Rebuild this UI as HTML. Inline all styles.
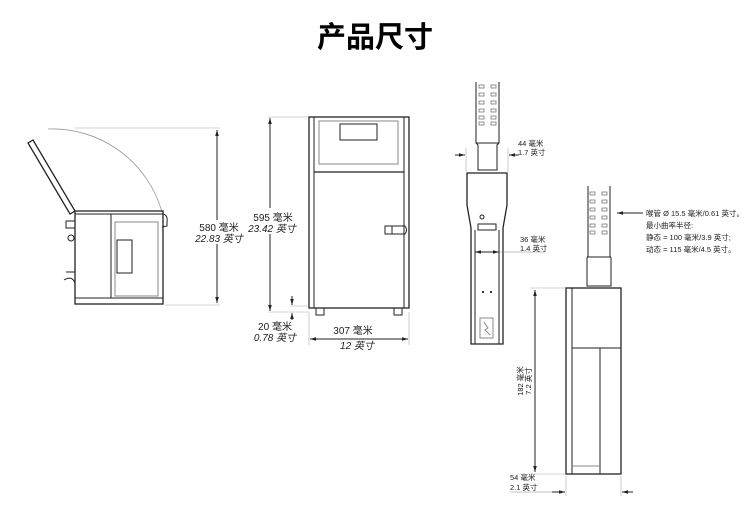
<!DOCTYPE html>
<html><head><meta charset="utf-8"><style>
body{margin:0;background:#fff;width:750px;height:517px;overflow:hidden}
svg{display:block}
text{font-family:"Liberation Sans","Noto Sans CJK SC",sans-serif;fill:#222}
</style></head><body>
<svg width="750" height="517" viewBox="0 0 750 517" xmlns="http://www.w3.org/2000/svg">
<defs>
<marker id="a" viewBox="0 0 10 10" refX="10" refY="5" markerWidth="6" markerHeight="6" orient="auto-start-reverse"><path d="M0,2 L10,5 L0,8z" fill="#222"/></marker>
</defs>
<text x="375" y="47" text-anchor="middle" font-size="29" font-weight="bold" style="fill:#000">产品尺寸</text>

<g stroke="#222" fill="none" stroke-width="1">
<!-- left side view -->
<path d="M48,129 A114,114 0 0 1 162,212" stroke="#999" stroke-width="0.8"/>
<line x1="75" y1="128" x2="220" y2="128" stroke="#aaa" stroke-width="0.6"/>
<line x1="165" y1="305" x2="220" y2="305" stroke="#aaa" stroke-width="0.6"/>
<path d="M28,143 L33,140 L75,211 L70,214 Z" stroke-width="1.3"/>
<rect x="75" y="211" width="88" height="93" stroke-width="1.3"/>
<line x1="75" y1="214" x2="163" y2="214"/>
<line x1="75" y1="298" x2="163" y2="298"/>
<line x1="111" y1="214" x2="111" y2="298"/>
<rect x="115" y="222" width="43" height="74" stroke="#888"/>
<rect x="117" y="240" width="15" height="33"/>
<path d="M163,214 Q168,215 167,222 L167,226 L162,227"/>
<rect x="66" y="221" width="9" height="7"/>
<circle cx="71" cy="238" r="3"/>
<path d="M66,272 L75,272 M64,280 Q72,275 75,283"/>
<line x1="217" y1="130" x2="217" y2="303" marker-start="url(#a)" marker-end="url(#a)"/>

<!-- front view -->
<line x1="268" y1="117" x2="308" y2="117" stroke="#aaa" stroke-width="0.6"/>
<line x1="268" y1="312" x2="308" y2="312" stroke="#aaa" stroke-width="0.6"/>
<line x1="290" y1="306" x2="308" y2="306" stroke="#aaa" stroke-width="0.6"/>
<line x1="270" y1="118" x2="270" y2="311" marker-start="url(#a)" marker-end="url(#a)"/>
<line x1="292" y1="296" x2="292" y2="305" marker-end="url(#a)"/>
<line x1="292" y1="322" x2="292" y2="313" marker-end="url(#a)"/>
<rect x="309" y="117" width="100" height="191" stroke-width="1.3"/>
<line x1="314" y1="117" x2="314" y2="308"/>
<line x1="404" y1="117" x2="404" y2="308"/>
<line x1="314" y1="172" x2="404" y2="172" stroke-width="1.3"/>
<rect x="319" y="121" width="79" height="43" stroke="#888"/>
<rect x="340" y="124" width="37" height="16"/>
<path d="M385,226 L405,226 Q408,230 405,234 L385,234 Z"/>
<line x1="392" y1="226" x2="392" y2="234"/>
<rect x="316" y="308" width="8" height="7"/>
<rect x="394" y="308" width="8" height="7"/>
<line x1="309" y1="312" x2="309" y2="345" stroke="#aaa" stroke-width="0.6"/>
<line x1="409" y1="312" x2="409" y2="345" stroke="#aaa" stroke-width="0.6"/>
<line x1="310" y1="339" x2="408" y2="339" marker-start="url(#a)" marker-end="url(#a)"/>

<!-- printhead 1 -->
<path d="M476,82 L476,143 L478,145 L478,170 L497,170 L497,145 L499,143 L499,82"/>
<g stroke="#666" stroke-width="0.7">
<rect x="479" y="85" width="5" height="3"/><rect x="491" y="85" width="5" height="3"/>
<rect x="479" y="93" width="5" height="3"/><rect x="491" y="93" width="5" height="3"/>
<rect x="479" y="101" width="5" height="3"/><rect x="491" y="101" width="5" height="3"/>
<rect x="479" y="109" width="5" height="3"/><rect x="491" y="109" width="5" height="3"/>
<rect x="479" y="116" width="5" height="3"/><rect x="491" y="116" width="5" height="3"/>
<rect x="479" y="122" width="5" height="3"/><rect x="491" y="122" width="5" height="3"/>
</g>
<line x1="476" y1="143" x2="499" y2="143"/>
<line x1="466" y1="148" x2="466" y2="172" stroke="#aaa" stroke-width="0.6"/>
<line x1="508" y1="148" x2="508" y2="172" stroke="#aaa" stroke-width="0.6"/>
<line x1="455" y1="155" x2="465" y2="155" marker-end="url(#a)"/>
<line x1="519" y1="155" x2="509" y2="155" marker-end="url(#a)"/>
<path d="M467,173 L507,173 L507,205 L503,228 L503,344 L471,344 L471,228 L467,205 Z" stroke-width="1.3"/>
<rect x="478" y="224" width="18" height="6"/>
<circle cx="482" cy="217" r="2"/>
<line x1="475" y1="230" x2="475" y2="344"/>
<line x1="499" y1="230" x2="499" y2="344"/>
<line x1="475" y1="252" x2="499" y2="252" marker-start="url(#a)" marker-end="url(#a)"/>
<line x1="499" y1="252" x2="545" y2="252" stroke="#888" stroke-width="0.6"/>
<rect x="480" y="318" width="13" height="20" stroke="#888"/>
<path d="M484,322 L488,328 L485,330 L490,335" stroke="#888"/>
<circle cx="483" cy="292" r="0.6" fill="#222"/><circle cx="491" cy="292" r="0.6" fill="#222"/>

<!-- printhead 2 -->
<path d="M588,186 L588,256 L587,258 L587,286 L611,286 L611,258 L610,256 L610,186"/>
<line x1="588" y1="257" x2="610" y2="257"/>
<g stroke="#666" stroke-width="0.7">
<rect x="590" y="192" width="5" height="3"/><rect x="602" y="192" width="5" height="3"/>
<rect x="590" y="200" width="5" height="3"/><rect x="602" y="200" width="5" height="3"/>
<rect x="590" y="208" width="5" height="3"/><rect x="602" y="208" width="5" height="3"/>
<rect x="590" y="216" width="5" height="3"/><rect x="602" y="216" width="5" height="3"/>
<rect x="590" y="224" width="5" height="3"/><rect x="602" y="224" width="5" height="3"/>
<rect x="590" y="231" width="5" height="3"/><rect x="602" y="231" width="5" height="3"/>
</g>
<rect x="566" y="288" width="55" height="186" stroke-width="1.3"/>
<line x1="572" y1="288" x2="572" y2="474"/>
<line x1="572" y1="348" x2="621" y2="348"/>
<line x1="600" y1="348" x2="600" y2="474"/>
<line x1="600" y1="466" x2="572" y2="466" stroke="#888"/>
<line x1="530" y1="288" x2="565" y2="288" stroke="#aaa" stroke-width="0.6"/>
<line x1="530" y1="474" x2="565" y2="474" stroke="#aaa" stroke-width="0.6"/>
<line x1="535" y1="290" x2="535" y2="472" marker-start="url(#a)" marker-end="url(#a)"/>
<line x1="566" y1="476" x2="566" y2="496" stroke="#aaa" stroke-width="0.6"/>
<line x1="621" y1="476" x2="621" y2="496" stroke="#aaa" stroke-width="0.6"/>
<line x1="552" y1="492" x2="565" y2="492" marker-end="url(#a)"/>
<line x1="633" y1="492" x2="622" y2="492" marker-end="url(#a)"/>
<line x1="510" y1="492" x2="552" y2="492" stroke="#888" stroke-width="0.6"/>
<line x1="643" y1="213" x2="617" y2="213" marker-end="url(#a)"/>
</g>

<rect x="199" y="220" width="39" height="24" fill="#fff"/>
<rect x="253" y="208" width="40" height="26" fill="#fff"/>
<rect x="256" y="320" width="38" height="24" fill="#fff"/>
<g font-size="10">
<text x="219" y="231" text-anchor="middle">580 毫米</text>
<text x="219" y="242" text-anchor="middle" font-style="italic">22.83 英寸</text>
<text x="273" y="221" text-anchor="middle">595 毫米</text>
<text x="272" y="232" text-anchor="middle" font-style="italic">23.42 英寸</text>
<text x="275" y="330" text-anchor="middle">20 毫米</text>
<text x="275" y="341" text-anchor="middle" font-style="italic">0.78 英寸</text>
<text x="353" y="334" text-anchor="middle">307 毫米</text>
<text x="357" y="349" text-anchor="middle" font-style="italic">12 英寸</text>
</g>
<g font-size="7.5">
<text x="518" y="146">44 毫米</text>
<text x="518" y="155">1.7 英寸</text>
<text x="520" y="242">36 毫米</text>
<text x="520" y="251">1.4 英寸</text>
<text x="510" y="480">54 毫米</text>
<text x="510" y="490">2.1 英寸</text>
<text transform="translate(523,381) rotate(-90)" text-anchor="middle">182 毫米</text>
<text transform="translate(531,381) rotate(-90)" text-anchor="middle">7.2 英寸</text>
<text x="646" y="216">喉管 Ø 15.5 毫米/0.61 英寸。</text>
<text x="646" y="228">最小曲率半径:</text>
<text x="646" y="240">静态 = 100 毫米/3.9 英寸;</text>
<text x="646" y="252">动态 = 115 毫米/4.5 英寸。</text>
</g>
</svg>
</body></html>
